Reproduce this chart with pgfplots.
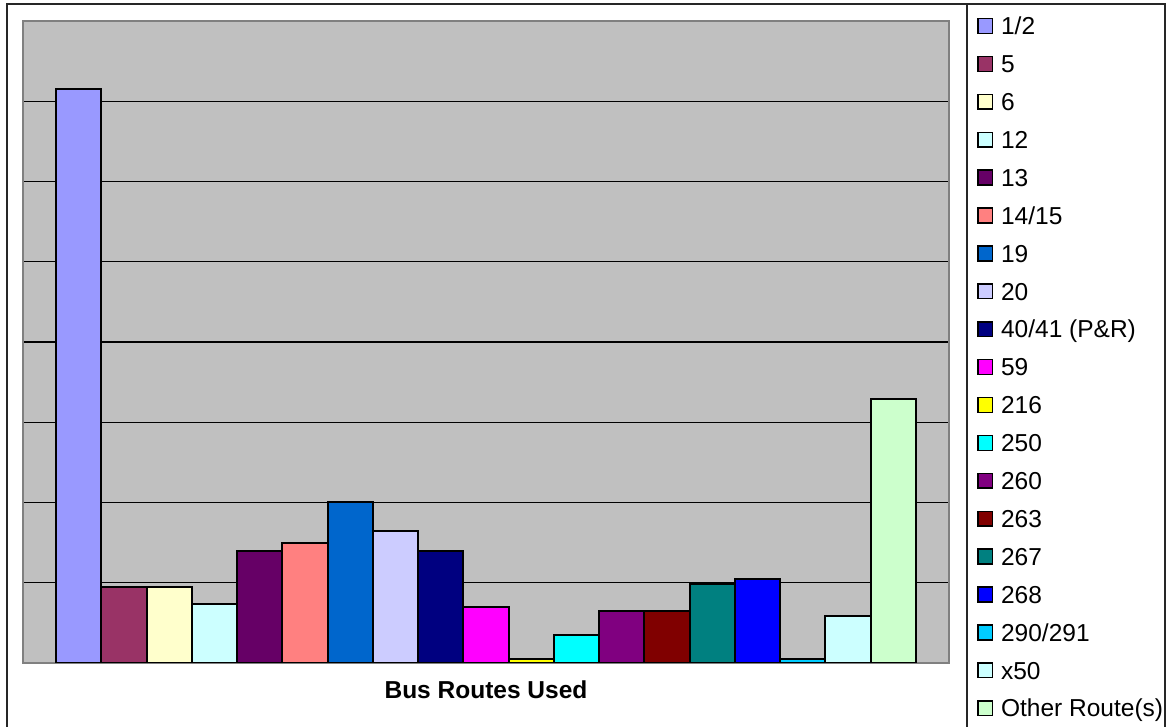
\documentclass[border=0pt]{standalone}
\usepackage{fontspec}
\setmainfont{Liberation Sans}
\usepackage{pgfplots}
\pgfplotsset{compat=1.18}
\definecolor{c1}{HTML}{9999FF}
\definecolor{c2}{HTML}{993366}
\definecolor{c3}{HTML}{FFFFCC}
\definecolor{c4}{HTML}{CCFFFF}
\definecolor{c5}{HTML}{660066}
\definecolor{c6}{HTML}{FF8080}
\definecolor{c7}{HTML}{0066CC}
\definecolor{c8}{HTML}{CCCCFF}
\definecolor{c9}{HTML}{000080}
\definecolor{c10}{HTML}{FF00FF}
\definecolor{c11}{HTML}{FFFF00}
\definecolor{c12}{HTML}{00FFFF}
\definecolor{c13}{HTML}{800080}
\definecolor{c14}{HTML}{800000}
\definecolor{c15}{HTML}{008080}
\definecolor{c16}{HTML}{0000FF}
\definecolor{c17}{HTML}{00CCFF}
\definecolor{c18}{HTML}{CCFFFF}
\definecolor{c19}{HTML}{CCFFCC}
\definecolor{plotgray}{HTML}{C0C0C0}
\definecolor{framegray}{HTML}{808080}
\pgfplotsset{mylegend/.style={legend image code/.code={\draw[##1, draw=black, line width=1.5pt] (0.75pt,-7.4pt) rectangle (15.2pt,7.4pt);}}}
\tikzset{barstyle/.style={draw=black, line width=2pt}}
\begin{document}
\begin{tikzpicture}
\useasboundingbox (0pt,0pt) rectangle (1167pt,727pt);
\fill[white] (0pt,0pt) rectangle (1167pt,727pt);
\begin{axis}[
  at={(23pt,64pt)}, anchor=south west, scale only axis,
  width=926pt, height=642pt,
  xmin=-1.23, xmax=19.23, ymin=0, ymax=8,
  ybar, bar width=1,
  xtick=\empty, ytick={1,2,3,4,5,6,7}, yticklabels={}, ymajorgrids,
  major tick length=0pt,
  major grid style={black, line width=1.2pt},
  axis line style={draw=framegray, line width=1.8pt},
  axis background/.style={fill=plotgray},
  xlabel={Bus Routes Used},
  xlabel style={font=\fontsize{24.5}{28}\selectfont\bfseries, at={(axis description cs:0.5,0)}, anchor=center, yshift=-27pt},
  legend style={at={(axis description cs:1.0302,1.0062)}, anchor=north west, draw=none, fill=none, inner sep=0pt,
    font=\fontsize{24.5}{28}\selectfont, row sep=20.4pt, column sep=8pt,
    nodes={inner sep=0pt, text height=17.5pt, text depth=0pt}},
  legend cell align=left,
  every axis plot post/.append style={bar shift=0pt, mylegend},
]
\addplot[fill=c1, barstyle] coordinates {(0,7.15)};
\addplot[fill=c2, barstyle] coordinates {(1,0.947)};
\addplot[fill=c3, barstyle] coordinates {(2,0.947)};
\addplot[fill=c4, barstyle] coordinates {(3,0.735)};
\addplot[fill=c5, barstyle] coordinates {(4,1.396)};
\addplot[fill=c6, barstyle] coordinates {(5,1.495)};
\addplot[fill=c7, barstyle] coordinates {(6,2.0)};
\addplot[fill=c8, barstyle] coordinates {(7,1.645)};
\addplot[fill=c9, barstyle] coordinates {(8,1.396)};
\addplot[fill=c10, barstyle] coordinates {(9,0.698)};
\addplot[fill=c11, barstyle] coordinates {(10,0.045)};
\addplot[fill=c12, barstyle] coordinates {(11,0.349)};
\addplot[fill=c13, barstyle] coordinates {(12,0.648)};
\addplot[fill=c14, barstyle] coordinates {(13,0.648)};
\addplot[fill=c15, barstyle] coordinates {(14,0.984)};
\addplot[fill=c16, barstyle] coordinates {(15,1.047)};
\addplot[fill=c17, barstyle] coordinates {(16,0.045)};
\addplot[fill=c18, barstyle] coordinates {(17,0.586)};
\addplot[fill=c19, barstyle] coordinates {(18,3.29)};
\legend{1/2,5,6,12,13,14/15,19,20,40/41 (P\&R),59,216,250,260,263,267,268,290/291,x50,Other Route(s)}
\end{axis}
\draw[line width=2pt, black!85] (6.5pt,-10pt) -- (6.5pt,722.5pt) -- (1165pt,722.5pt) -- (1165pt,-10pt);
\draw[line width=1.5pt, black!85] (967pt,722.5pt) -- (967pt,-10pt);
\end{tikzpicture}
\end{document}
